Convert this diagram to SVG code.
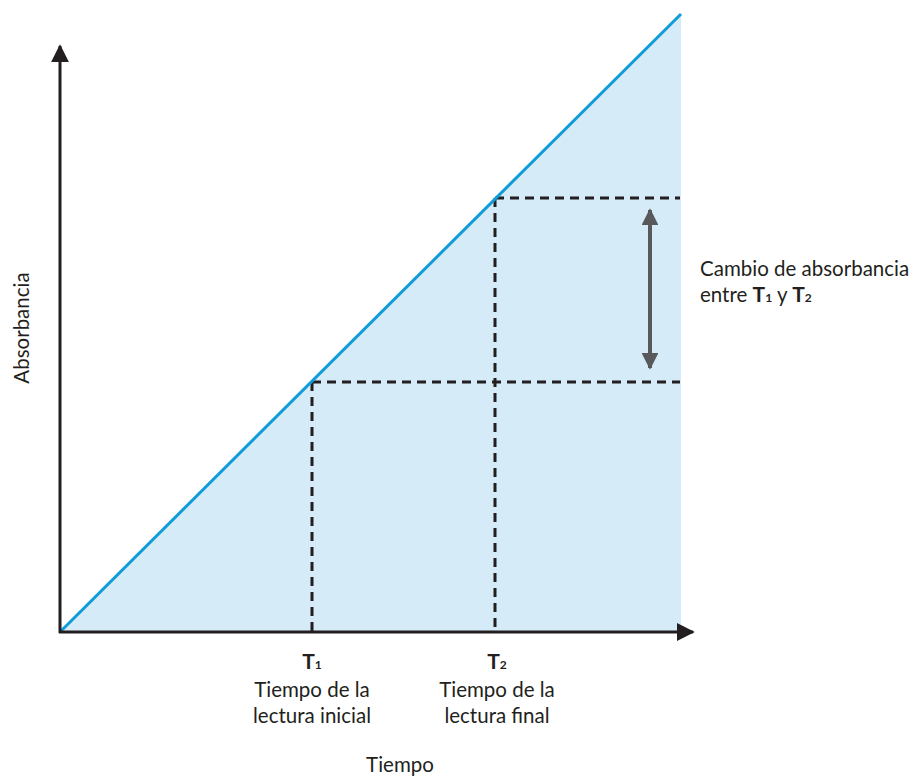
<svg xmlns="http://www.w3.org/2000/svg" width="917" height="780" viewBox="0 0 917 780">
<style>
.t{font-family:"Lato","Noto Sans","Liberation Sans",sans-serif;font-size:20.5px;fill:#231f20}
.b{font-weight:bold;font-size:21px}
.s{font-size:12px;font-weight:bold}
.dash{stroke:#231f20;stroke-width:3;stroke-dasharray:9 6;fill:none}
.axis{stroke:#231f20;stroke-width:3;fill:none}
</style>
<defs>
<marker id="ah" viewBox="0 0 10 10" refX="9" refY="5" markerWidth="6" markerHeight="6" markerUnits="strokeWidth" orient="auto-start-reverse"><path d="M0,0 L10,5 L0,10 Z" fill="#231f20"/></marker>
<marker id="gh" viewBox="0 0 10 10" refX="9" refY="5" markerWidth="4.2" markerHeight="4.2" markerUnits="strokeWidth" orient="auto-start-reverse"><path d="M0,0 L10,5 L0,10 Z" fill="#58595b"/></marker>
</defs>
<g id="area">
<polygon points="60,632 681,14 681,632" fill="#d5ebf8"/>
</g>
<g id="connectors">
<line class="dash" x1="312" y1="382" x2="680" y2="382"/>
<line class="dash" x1="312" y1="382" x2="312" y2="632"/>
<line class="dash" x1="495" y1="198" x2="680" y2="198"/>
<line class="dash" x1="495" y1="198" x2="495" y2="632"/>
<line x1="60" y1="632" x2="681" y2="14" stroke="#109cd8" stroke-width="3"/>
<line class="axis" x1="60" y1="633" x2="60" y2="46" marker-end="url(#ah)"/>
<line class="axis" x1="59" y1="632" x2="693" y2="632" marker-end="url(#ah)"/>
<line x1="650" y1="368" x2="650" y2="210" stroke="#58595b" stroke-width="4" marker-start="url(#gh)" marker-end="url(#gh)"/>
</g>
<g id="ylabel"><text class="t" transform="translate(29,328) rotate(-90)" text-anchor="middle">Absorbancia</text></g>
<g id="xlabel"><text class="t" x="400" y="772" text-anchor="middle">Tiempo</text></g>
<g id="t1">
<text class="t" x="312" y="669" text-anchor="middle"><tspan class="b">T</tspan><tspan class="s">1</tspan></text>
<text class="t" x="312" y="697" text-anchor="middle">Tiempo de la</text>
<text class="t" x="312" y="723" text-anchor="middle">lectura inicial</text>
</g>
<g id="t2">
<text class="t" x="497" y="669" text-anchor="middle"><tspan class="b">T</tspan><tspan class="s">2</tspan></text>
<text class="t" x="497" y="697" text-anchor="middle">Tiempo de la</text>
<text class="t" x="497" y="723" text-anchor="middle">lectura final</text>
</g>
<g id="change">
<text class="t" x="700" y="276">Cambio de absorbancia</text>
<text class="t" x="700" y="302">entre <tspan class="b">T</tspan><tspan class="s">1</tspan> y <tspan class="b">T</tspan><tspan class="s">2</tspan></text>
</g>
</svg>
